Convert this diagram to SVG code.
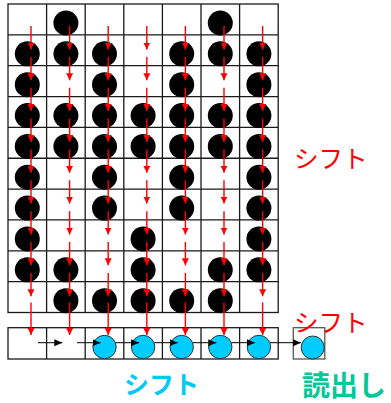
<svg xmlns="http://www.w3.org/2000/svg" xmlns:xlink="http://www.w3.org/1999/xlink" width="391" height="403" viewBox="0 0 391 403">
<style>
.grid{fill:none;stroke:#1a1a1a;stroke-width:1.3}
.cell{fill:#fff;stroke:#1a1a1a;stroke-width:1.3}
.xcell{fill:#fff;stroke:#555;stroke-width:1.3}
.bk{fill:#000}
.cy{fill:#00CCFF;stroke:#333;stroke-width:1}
.ra{stroke:#FF0000;stroke-width:1.4;marker-end:url(#rh)}
.ka{stroke:#000;stroke-width:1;marker-end:url(#kh)}
.t{font-family:"Noto Sans CJK JP","Noto Sans",sans-serif}
</style>
<defs>
<marker id="rh" markerUnits="userSpaceOnUse" markerWidth="8" markerHeight="8" refX="7" refY="3.5" orient="auto"><path d="M0,0L7,3.5L0,7z" fill="#FF0000"/></marker>
<marker id="kh" markerUnits="userSpaceOnUse" markerWidth="9" markerHeight="8" refX="8" refY="3.5" orient="auto"><path d="M0,0L8,3.5L0,7z" fill="#000"/></marker>
<g id="acol">
<line class="ra" x1="0" y1="26" x2="0" y2="49.5"/>
<line class="ra" x1="0" y1="57" x2="0" y2="80.3"/>
<line class="ra" x1="0" y1="87.8" x2="0" y2="111.1"/>
<line class="ra" x1="0" y1="118.6" x2="0" y2="142"/>
<line class="ra" x1="0" y1="149.5" x2="0" y2="172.8"/>
<line class="ra" x1="0" y1="180.3" x2="0" y2="203.6"/>
<line class="ra" x1="0" y1="211.2" x2="0" y2="234.5"/>
<line class="ra" x1="0" y1="242" x2="0" y2="265.3"/>
<line class="ra" x1="0" y1="272.9" x2="0" y2="296.2"/>
<line class="ra" x1="0" y1="302.5" x2="0" y2="335"/>
</g>
</defs>
<rect width="391" height="403" fill="#fff"/>
<g id="grid" class="grid">
<rect x="8" y="4" width="270.2" height="308.5"/>
<path d="M46.6,4V312.5M85.2,4V312.5M123.8,4V312.5M162.4,4V312.5M201,4V312.5M239.6,4V312.5M8,34.85H278.2M8,65.7H278.2M8,96.55H278.2M8,127.4H278.2M8,158.25H278.2M8,189.1H278.2M8,219.95H278.2M8,250.8H278.2M8,281.65H278.2"/>
</g>
<g id="outrow">
<rect class="cell" x="8" y="327.7" width="270.2" height="31.3"/>
<path class="grid" d="M46.6,327.7V359M85.2,327.7V359M123.8,327.7V359M162.4,327.7V359M201,327.7V359M239.6,327.7V359"/>
</g>
<g id="readcell"><rect class="xcell" x="293.3" y="327.7" width="31.5" height="31.3"/></g>
<g id="bits">
<g id="r0"><circle class="bk" cx="65.9" cy="23" r="12.5"/><circle class="bk" cx="220.3" cy="23" r="12.5"/></g>
<g id="r1"><circle class="bk" cx="27.3" cy="53.85" r="12.5"/><circle class="bk" cx="65.9" cy="53.85" r="12.5"/><circle class="bk" cx="104.5" cy="53.85" r="12.5"/><circle class="bk" cx="181.7" cy="53.85" r="12.5"/><circle class="bk" cx="220.3" cy="53.85" r="12.5"/><circle class="bk" cx="258.9" cy="53.85" r="12.5"/></g>
<g id="r2"><circle class="bk" cx="27.3" cy="84.7" r="12.5"/><circle class="bk" cx="104.5" cy="84.7" r="12.5"/><circle class="bk" cx="181.7" cy="84.7" r="12.5"/><circle class="bk" cx="258.9" cy="84.7" r="12.5"/></g>
<g id="r3"><circle class="bk" cx="27.3" cy="115.55" r="12.5"/><circle class="bk" cx="65.9" cy="115.55" r="12.5"/><circle class="bk" cx="104.5" cy="115.55" r="12.5"/><circle class="bk" cx="143.1" cy="115.55" r="12.5"/><circle class="bk" cx="181.7" cy="115.55" r="12.5"/><circle class="bk" cx="220.3" cy="115.55" r="12.5"/><circle class="bk" cx="258.9" cy="115.55" r="12.5"/></g>
<g id="r4"><circle class="bk" cx="27.3" cy="146.4" r="12.5"/><circle class="bk" cx="65.9" cy="146.4" r="12.5"/><circle class="bk" cx="104.5" cy="146.4" r="12.5"/><circle class="bk" cx="143.1" cy="146.4" r="12.5"/><circle class="bk" cx="181.7" cy="146.4" r="12.5"/><circle class="bk" cx="220.3" cy="146.4" r="12.5"/><circle class="bk" cx="258.9" cy="146.4" r="12.5"/></g>
<g id="r5"><circle class="bk" cx="27.3" cy="177.25" r="12.5"/><circle class="bk" cx="104.5" cy="177.25" r="12.5"/><circle class="bk" cx="181.7" cy="177.25" r="12.5"/><circle class="bk" cx="258.9" cy="177.25" r="12.5"/></g>
<g id="r6"><circle class="bk" cx="27.3" cy="208.1" r="12.5"/><circle class="bk" cx="104.5" cy="208.1" r="12.5"/><circle class="bk" cx="181.7" cy="208.1" r="12.5"/><circle class="bk" cx="258.9" cy="208.1" r="12.5"/></g>
<g id="r7"><circle class="bk" cx="27.3" cy="238.95" r="12.5"/><circle class="bk" cx="143.1" cy="238.95" r="12.5"/><circle class="bk" cx="258.9" cy="238.95" r="12.5"/></g>
<g id="r8"><circle class="bk" cx="27.3" cy="269.8" r="12.5"/><circle class="bk" cx="65.9" cy="269.8" r="12.5"/><circle class="bk" cx="143.1" cy="269.8" r="12.5"/><circle class="bk" cx="220.3" cy="269.8" r="12.5"/><circle class="bk" cx="258.9" cy="269.8" r="12.5"/></g>
<g id="r9"><circle class="bk" cx="65.9" cy="300.65" r="12.5"/><circle class="bk" cx="104.5" cy="300.65" r="12.5"/><circle class="bk" cx="143.1" cy="300.65" r="12.5"/><circle class="bk" cx="181.7" cy="300.65" r="12.5"/><circle class="bk" cx="220.3" cy="300.65" r="12.5"/></g>
<g id="out"><circle class="cy" cx="104.5" cy="347" r="11.7"/><circle class="cy" cx="143.1" cy="347" r="11.7"/><circle class="cy" cx="181.7" cy="347" r="11.7"/><circle class="cy" cx="220.3" cy="347" r="11.7"/><circle class="cy" cx="258.9" cy="347" r="11.7"/></g>
<g id="read"><circle class="cy" cx="312.7" cy="347.5" r="11.5"/></g>
</g>
<g id="connectors">
<use xlink:href="#acol" x="31"/>
<use xlink:href="#acol" x="69.6"/>
<use xlink:href="#acol" x="108.2"/>
<use xlink:href="#acol" x="146.8"/>
<use xlink:href="#acol" x="185.4"/>
<use xlink:href="#acol" x="224"/>
<use xlink:href="#acol" x="262.6"/>
<line class="ka" x1="38" y1="342.7" x2="62.3" y2="342.7"/>
<line class="ka" x1="77" y1="342.7" x2="100.5" y2="342.7"/>
<line class="ka" x1="115.6" y1="342.7" x2="139.1" y2="342.7"/>
<line class="ka" x1="154.2" y1="342.7" x2="177.7" y2="342.7"/>
<line class="ka" x1="192.8" y1="342.7" x2="216.3" y2="342.7"/>
<line class="ka" x1="231.4" y1="342.7" x2="254.9" y2="342.7"/>
<line class="ka" x1="270.2" y1="342.7" x2="300.9" y2="342.7"/>
</g>
<g id="labels" class="t">
<text x="294" y="168" font-size="24.5" fill="#FF0000">シフト</text>
<text x="294" y="332" font-size="24.5" fill="#FF0000">シフト</text>
<text x="124" y="394" font-size="25" font-weight="bold" fill="#00C8F8">シフト</text>
<text x="302" y="395.5" font-size="28" font-weight="bold" fill="#00C896">読出し</text>
</g>
</svg>
